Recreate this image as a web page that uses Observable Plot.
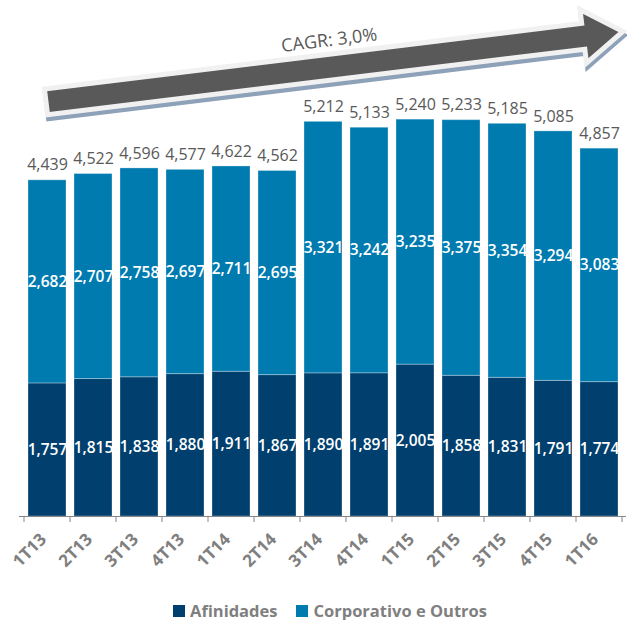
<!DOCTYPE html>
<html><head><meta charset="utf-8">
<script src="https://cdn.jsdelivr.net/npm/d3@7"></script>
<script src="https://cdn.jsdelivr.net/npm/@observablehq/plot@0.6"></script>
<style>
html,body{margin:0;padding:0;background:#fff;overflow:hidden;}
#legend{display:flex;justify-content:flex-start;padding-left:173px;font-family:"Open Sans",sans-serif;font-weight:700;font-size:16.5px;color:#7f7f7f;margin-top:12px;line-height:18px;white-space:nowrap;}
#legend .item{display:flex;align-items:center;margin-right:19px;}
#legend .sw{display:inline-block;width:12px;height:12px;margin-right:5px;}
</style></head><body><div id="chart"></div><div id="legend"></div>
<script>
const quarters = ["1T13","2T13","3T13","4T13","1T14","2T14","3T14","4T14","1T15","2T15","3T15","4T15","1T16"];
const afinidades = [1757,1815,1838,1880,1911,1867,1890,1891,2005,1858,1831,1791,1774];
const corporativo = [2682,2707,2758,2697,2711,2695,3321,3242,3235,3375,3354,3294,3083];
const totals = [4439,4522,4596,4577,4622,4562,5212,5133,5240,5233,5185,5085,4857];
const seriesNames = ["Afinidades","Corporativo e Outros"];
const seriesColors = ["#003f6e","#007bb0"];
const cagrLabel = "CAGR: 3,0%";
const arrowFrom = {q: "1T13", y: 5470};
const arrowTo = {q: "1T16", y: 6390};

const fmt = d3.format(",");
const long = [];
quarters.forEach((q, i) => {
  long.push({q, s: seriesNames[0], v: afinidades[i]});
  long.push({q, s: seriesNames[1], v: corporativo[i]});
});
const totalRows = quarters.map((q, i) => ({q, t: totals[i]}));

function boundaryTicks(index, scales) {
  const x = scales.x, y = scales.y;
  const dom = x.domain();
  const step = x.step(), bw = x.bandwidth();
  const off = (step - bw) / 2;
  const g = d3.create("svg:g").attr("stroke", "#868686").attr("stroke-width", 1);
  const y0 = y(0);
  for (let i = 0; i <= dom.length; i++) {
    const xb = i < dom.length ? x(dom[i]) - off : x(dom[dom.length - 1]) + bw + off;
    g.append("line").attr("x1", xb).attr("x2", xb).attr("y1", y0).attr("y2", y0 + 6);
  }
  return g.node();
}

function cagrArrow(index, scales) {
  const x = scales.x, y = scales.y, bw = x.bandwidth();
  const x1 = x(arrowFrom.q) + bw / 2, y1 = y(arrowFrom.y);
  const x2 = x(arrowTo.q) + bw, y2 = y(arrowTo.y);
  const dx = x2 - x1, dy = y2 - y1, L = Math.hypot(dx, dy);
  const ux = dx / L, uy = dy / L, nx = -uy, ny = ux; // n points "down"
  const sw = 5, hs = 10.5 + sw / 2, hh = 24.5 + sw / 2, tip = L + 5, base = L - 35;
  const P = (a, b) => [x1 + ux * a + nx * b, y1 + uy * a + ny * b];
  const pts = [P(-1,-hs), P(base,-hs), P(base,-hh), P(tip,0), P(base,hh), P(base,hs), P(-1,hs)];
  const g = d3.create("svg:g");
  g.append("polygon").attr("points", pts.map(p => [p[0]+1, p[1]+4].join(",")).join(" "))
    .attr("fill", "#8da1b9").attr("stroke", "#8da1b9").attr("stroke-width", sw).attr("stroke-linejoin", "miter");
  g.append("polygon").attr("points", pts.map(p => p.join(",")).join(" "))
    .attr("fill", "#595959").attr("stroke", "#f1f1f1").attr("stroke-width", sw).attr("stroke-linejoin", "miter");
  const c = P(L * 0.5, -28);
  const ang = Math.atan2(dy, dx) * 180 / Math.PI;
  g.append("text").attr("transform", `translate(${c[0]},${c[1]}) rotate(${ang})`)
    .attr("text-anchor", "middle").attr("dominant-baseline", "central")
    .attr("font-size", 18).attr("fill", "#595959").text(cagrLabel);
  return g.node();
}

const chart = Plot.plot({
  width: 627,
  height: 590,
  marginTop: 1,
  marginBottom: 74,
  marginLeft: 19,
  marginRight: 1,
  style: {fontFamily: "Open Sans, sans-serif", fontSize: "15px", background: "#fff", overflow: "visible"},
  x: {type: "band", domain: quarters, paddingInner: 0.18, paddingOuter: 0.09, label: null},
  y: {domain: [0, 6800], axis: null},
  color: {domain: seriesNames, range: seriesColors},
  marks: [
    Plot.barY(long, Plot.stackY({x: "q", y: "v", fill: "s", stroke: "#ffffff", strokeOpacity: 0.3, strokeWidth: 1})),
    Plot.text(long, Plot.stackY({x: "q", y: "v", z: "s", text: d => fmt(d.v), fill: "white", fontWeight: 600, fontSize: 15.5})),
    Plot.text(totalRows, {x: "q", y: "t", text: d => fmt(d.t), dy: -15, fill: "#595959", fontSize: 16, fontWeight: 500}),
    Plot.ruleY([0], {stroke: "#868686"}),
    boundaryTicks,
    Plot.axisX({tickSize: 0, tickRotate: -45, tickPadding: 20, dx: -4, fontSize: 17, fontWeight: 700, color: "#7f7f7f", label: null}),
    cagrArrow
  ]
});
document.getElementById("chart").appendChild(chart);

const legend = document.getElementById("legend");
seriesNames.forEach((n, i) => {
  const it = document.createElement("span"); it.className = "item";
  const sw = document.createElement("span"); sw.className = "sw"; sw.style.background = seriesColors[i];
  it.appendChild(sw); it.appendChild(document.createTextNode(n));
  legend.appendChild(it);
});
</script></body></html>
